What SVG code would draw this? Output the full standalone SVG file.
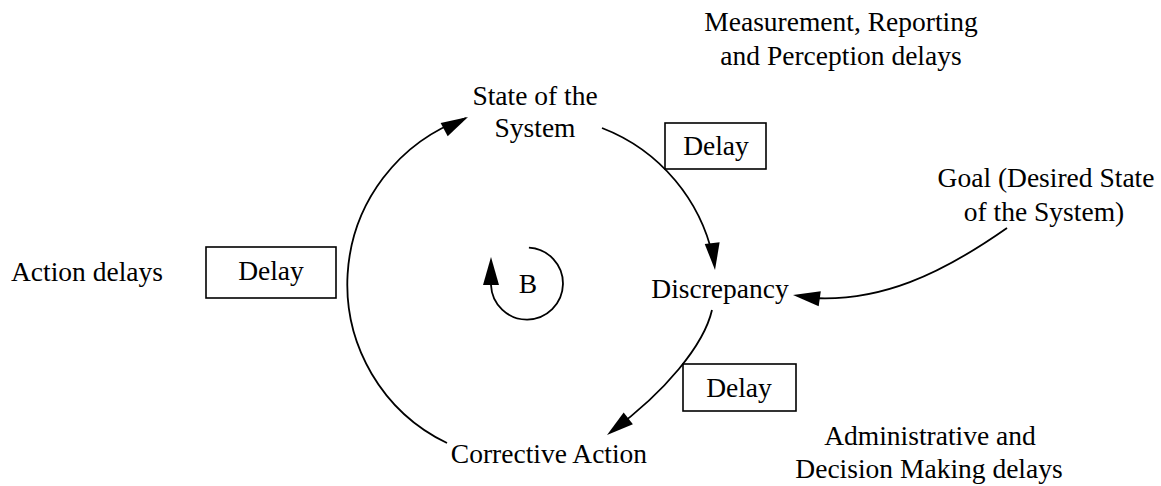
<svg xmlns="http://www.w3.org/2000/svg" xmlns:xlink="http://www.w3.org/1999/xlink" width="1161" height="486" viewBox="0 0 1161 486">
<style>
.t{font-family:"Liberation Serif","Times New Roman",serif;font-size:27.5px;fill:#000}
.m{text-anchor:middle}
.box{fill:none;stroke:#000;stroke-width:1.6}
.conn{fill:none;stroke:#000;stroke-width:1.8}
.head{fill:#000;stroke:none}
</style>
<defs>
<path id="ah" d="M0,0 L-27,-7.5 L-27,7.5 Z"/>
</defs>
<rect width="1161" height="486" fill="#fff"/>
<g id="label-measurement">
<text class="t m" x="841" y="31">Measurement, Reporting</text>
<text class="t m" x="841" y="65">and Perception delays</text>
</g>
<g id="node-state">
<text class="t m" x="535" y="105">State of the</text>
<text class="t m" x="535" y="137">System</text>
</g>
<g id="delay-perception">
<rect class="box" x="665" y="123" width="101" height="46"/>
<text class="t m" x="716" y="155">Delay</text>
</g>
<g id="node-goal">
<text class="t m" x="1046" y="187">Goal (Desired State</text>
<text class="t m" x="1044" y="221">of the System)</text>
</g>
<g id="label-action">
<text class="t" x="11" y="281">Action delays</text>
</g>
<g id="delay-action">
<rect class="box" x="206" y="247" width="130" height="51"/>
<text class="t m" x="271" y="280">Delay</text>
</g>
<g id="node-discrepancy">
<text class="t m" x="720" y="298">Discrepancy</text>
</g>
<g id="loop-B">
<path class="conn" d="M528.9,247.6 A36,36 0 1 1 491,285"/>
<polygon class="head" points="491,257 483,285 499,285"/>
<text class="t m" x="528" y="293">B</text>
</g>
<g id="delay-decision">
<rect class="box" x="683" y="364" width="113" height="47"/>
<text class="t m" x="739" y="397">Delay</text>
</g>
<g id="node-corrective">
<text class="t m" x="549" y="463">Corrective Action</text>
</g>
<g id="label-administrative">
<text class="t m" x="930" y="445">Administrative and</text>
<text class="t m" x="929" y="478">Decision Making delays</text>
</g>
<g id="connectors">
<path class="conn" d="M447,443 A176,176 0 0 1 466,118"/>
<use xlink:href="#ah" class="head" transform="translate(468,117) rotate(-28)"/>
<path class="conn" d="M602,128 A180,180 0 0 1 714,262"/>
<use xlink:href="#ah" class="head" transform="translate(715,270) rotate(84)"/>
<path class="conn" d="M712,310 C704,345 665,392 612,431"/>
<use xlink:href="#ah" class="head" transform="translate(607,435) rotate(142)"/>
<path class="conn" d="M1007,228 C940,275 880,302 812,298"/>
<use xlink:href="#ah" class="head" transform="translate(793,295) rotate(188)"/>
</g>
</svg>
